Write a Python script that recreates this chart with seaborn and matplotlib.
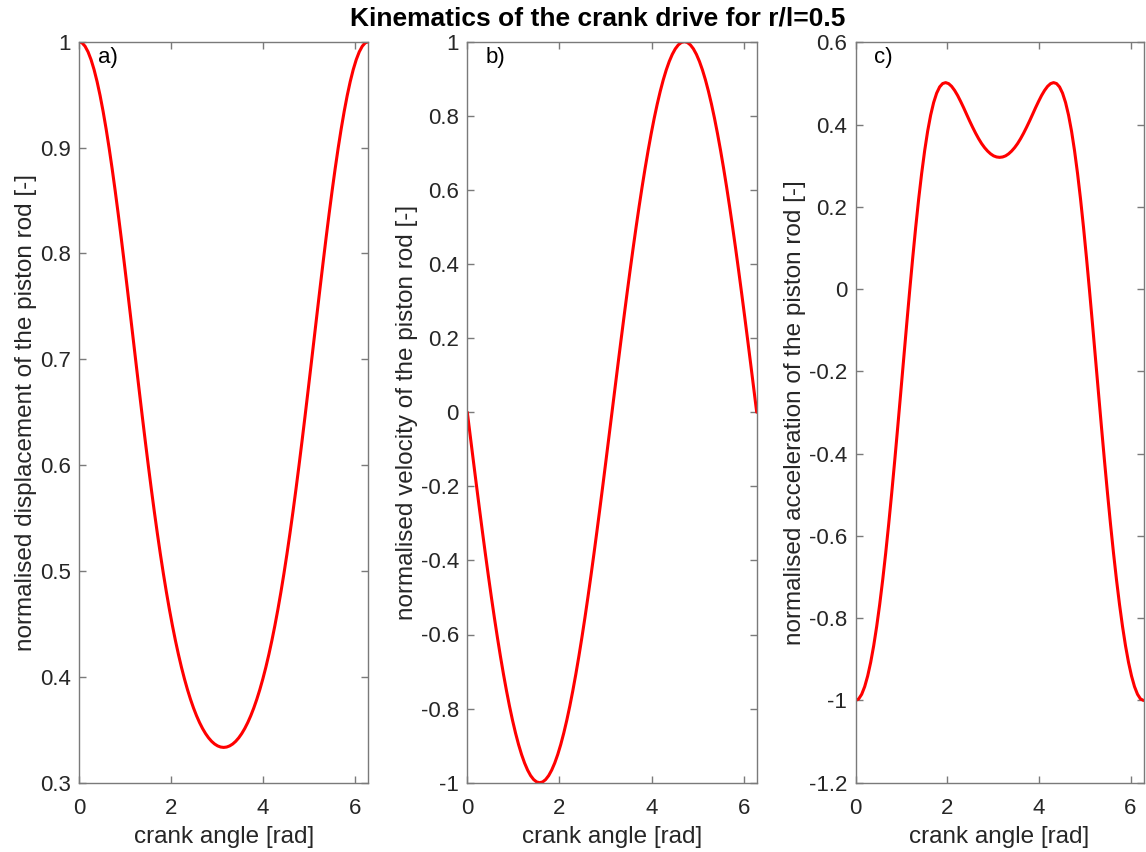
import numpy as np
import matplotlib
matplotlib.use("Agg")
import matplotlib.pyplot as plt
import seaborn as sns
from matplotlib.ticker import FixedLocator, FuncFormatter

# crank angle samples in degrees (0 .. 360, step 3.75)
crank_deg = [0, 3.75, 7.5, 11.25, 15, 18.75, 22.5, 26.25, 30, 33.75, 37.5, 41.25, 45,
             48.75, 52.5, 56.25, 60, 63.75, 67.5, 71.25, 75, 78.75, 82.5, 86.25, 90,
             93.75, 97.5, 101.25, 105, 108.75, 112.5, 116.25, 120, 123.75, 127.5, 131.25, 135,
             138.75, 142.5, 146.25, 150, 153.75, 157.5, 161.25, 165, 168.75, 172.5, 176.25, 180,
             183.75, 187.5, 191.25, 195, 198.75, 202.5, 206.25, 210, 213.75, 217.5, 221.25, 225,
             228.75, 232.5, 236.25, 240, 243.75, 247.5, 251.25, 255, 258.75, 262.5, 266.25, 270,
             273.75, 277.5, 281.25, 285, 288.75, 292.5, 296.25, 300, 303.75, 307.5, 311.25, 315,
             318.75, 322.5, 326.25, 330, 333.75, 337.5, 341.25, 345, 348.75, 352.5, 356.25, 360]

displacement = [1.0, 0.99893, 0.99573, 0.99042, 0.98304, 0.97364, 0.96231, 0.94912, 0.93417,
                0.91759, 0.89948, 0.88001, 0.85931, 0.83755, 0.81489, 0.79151, 0.76759,
                0.74331, 0.71883, 0.69436, 0.67003, 0.64603, 0.62250, 0.59956, 0.57735,
                0.55596, 0.53548, 0.51597, 0.49749, 0.48006, 0.46371, 0.44845, 0.43426,
                0.42113, 0.40905, 0.39799, 0.38791, 0.37878, 0.37058, 0.36327, 0.35682,
                0.35120, 0.34639, 0.34236, 0.33908, 0.33656, 0.33477, 0.33369, 0.33333,
                0.33369, 0.33477, 0.33656, 0.33908, 0.34236, 0.34639, 0.35120, 0.35682,
                0.36327, 0.37058, 0.37878, 0.38791, 0.39799, 0.40905, 0.42113, 0.43426,
                0.44845, 0.46371, 0.48006, 0.49749, 0.51597, 0.53548, 0.55596, 0.57735,
                0.59956, 0.62250, 0.64603, 0.67003, 0.69436, 0.71883, 0.74331, 0.76759,
                0.79151, 0.81489, 0.83755, 0.85931, 0.88001, 0.89948, 0.91759, 0.93417,
                0.94912, 0.96231, 0.97364, 0.98304, 0.99042, 0.99573, 0.99893, 1.0]

velocity = [0.0, -0.0654, -0.1305, -0.1951, -0.2588, -0.3214, -0.3827, -0.4423, -0.5,
            -0.5556, -0.6088, -0.6593, -0.7071, -0.7518, -0.7934, -0.8315, -0.8660,
            -0.8969, -0.9239, -0.9469, -0.9659, -0.9808, -0.9914, -0.9979, -1.0,
            -0.9979, -0.9914, -0.9808, -0.9659, -0.9469, -0.9239, -0.8969, -0.8660,
            -0.8315, -0.7934, -0.7518, -0.7071, -0.6593, -0.6088, -0.5556, -0.5,
            -0.4423, -0.3827, -0.3214, -0.2588, -0.1951, -0.1305, -0.0654, 0.0,
            0.0654, 0.1305, 0.1951, 0.2588, 0.3214, 0.3827, 0.4423, 0.5,
            0.5556, 0.6088, 0.6593, 0.7071, 0.7518, 0.7934, 0.8315, 0.8660,
            0.8969, 0.9239, 0.9469, 0.9659, 0.9808, 0.9914, 0.9979, 1.0,
            0.9979, 0.9914, 0.9808, 0.9659, 0.9469, 0.9239, 0.8969, 0.8660,
            0.8315, 0.7934, 0.7518, 0.7071, 0.6593, 0.6088, 0.5556, 0.5,
            0.4423, 0.3827, 0.3214, 0.2588, 0.1951, 0.1305, 0.0654, 0.0]

acceleration = [-1.0, -0.9963, -0.9850, -0.9664, -0.9404, -0.9073, -0.8671, -0.8201, -0.7667,
                -0.7072, -0.6420, -0.5717, -0.4969, -0.4184, -0.3370, -0.2538, -0.1698,
                -0.0862, -0.0043, 0.0746, 0.1494, 0.2187, 0.2811, 0.3364, 0.3839,
                0.4229, 0.4536, 0.4763, 0.4915, 0.4997, 0.5020, 0.4995, 0.4929,
                0.4830, 0.4707, 0.4563, 0.4410, 0.4248, 0.4088, 0.3935, 0.3790,
                0.3657, 0.3538, 0.3438, 0.3355, 0.3288, 0.3239, 0.3212, 0.3203,
                0.3212, 0.3239, 0.3288, 0.3355, 0.3438, 0.3538, 0.3657, 0.3790,
                0.3935, 0.4088, 0.4248, 0.4410, 0.4563, 0.4707, 0.4830, 0.4929,
                0.4995, 0.5020, 0.4997, 0.4915, 0.4763, 0.4536, 0.4229, 0.3839,
                0.3364, 0.2811, 0.2187, 0.1494, 0.0746, -0.0043, -0.0862, -0.1698,
                -0.2538, -0.3370, -0.4184, -0.4969, -0.5717, -0.6420, -0.7072, -0.7667,
                -0.8201, -0.8671, -0.9073, -0.9404, -0.9664, -0.9850, -0.9963, -1.0]

panel_tags = ["a)", "b)", "c)"]
y_labels = ["normalised displacement of the piston rod [-]",
            "normalised velocity of the piston rod [-]",
            "normalised acceleration of the piston rod [-]"]
y_ticks = [[0.3, 0.4, 0.5, 0.6, 0.7, 0.8, 0.9, 1.0],
           [-1.0, -0.8, -0.6, -0.4, -0.2, 0.0, 0.2, 0.4, 0.6, 0.8, 1.0],
           [-1.2, -1.0, -0.8, -0.6, -0.4, -0.2, 0.0, 0.2, 0.4, 0.6]]
x_ticks = [0, 2, 4, 6]
x_label = "crank angle [rad]"
title = "Kinematics of the crank drive for r/l=0.5"

sns.set_theme(style="white")
plt.rcParams["font.family"] = ["Liberation Sans", "DejaVu Sans"]
plt.rcParams["axes.unicode_minus"] = False

W, H = 1146, 852
fig = plt.figure(figsize=(W / 100, H / 100), dpi=100)
fig.patch.set_facecolor("white")

# axes boxes in pixels: left, right, top, bottom
boxes = [(79, 368.3, 41.7, 782.7),
         (467.3, 756.7, 41.7, 782.7),
         (855.7, 1143.5, 42.3, 782.7)]

angle_rad = np.deg2rad(crank_deg)
series = [displacement, velocity, acceleration]

def fmt(v, pos):
    s = f"{v:.1f}"
    if s.endswith(".0"):
        s = s[:-2]
    if s == "-0":
        s = "0"
    return s

axis_col = "#7a7a7a"
text_col = "#262626"

for (l, r, t, b), y, tag, ylab, yt in zip(boxes, series, panel_tags, y_labels, y_ticks):
    ax = fig.add_axes([l / W, (H - b) / H, (r - l) / W, (b - t) / H])
    sns.lineplot(x=angle_rad, y=y, ax=ax, color="#ff0000", linewidth=2.2)
    ax.set_xlim(0, 2 * np.pi)
    ax.set_ylim(yt[0], yt[-1])
    ax.xaxis.set_major_locator(FixedLocator(x_ticks))
    ax.yaxis.set_major_locator(FixedLocator(yt))
    ax.yaxis.set_major_formatter(FuncFormatter(fmt))
    ax.xaxis.set_major_formatter(FuncFormatter(fmt))
    ax.tick_params(direction="in", length=5, width=1, colors=axis_col,
                   labelcolor=text_col, labelsize=16, top=True, right=True,
                   bottom=True, left=True)
    ax.tick_params(axis="x", pad=11)
    ax.tick_params(axis="y", pad=6)
    for sp in ax.spines.values():
        sp.set_color(axis_col)
        sp.set_linewidth(1.0)
    ax.set_xlabel(x_label, fontsize=17.5, color=text_col, labelpad=5)
    ax.set_ylabel(ylab, fontsize=17.5, color=text_col, labelpad=2)
    ax.text(0.0646, 0.979, tag, transform=ax.transAxes, fontsize=16,
            color="black", ha="left", va="center")

fig.text(598 / W, 1 - 18 / H, title, ha="center", va="center",
         fontsize=19, fontweight="bold", color="black")

fig.savefig("out.png", dpi=100, facecolor="white")
